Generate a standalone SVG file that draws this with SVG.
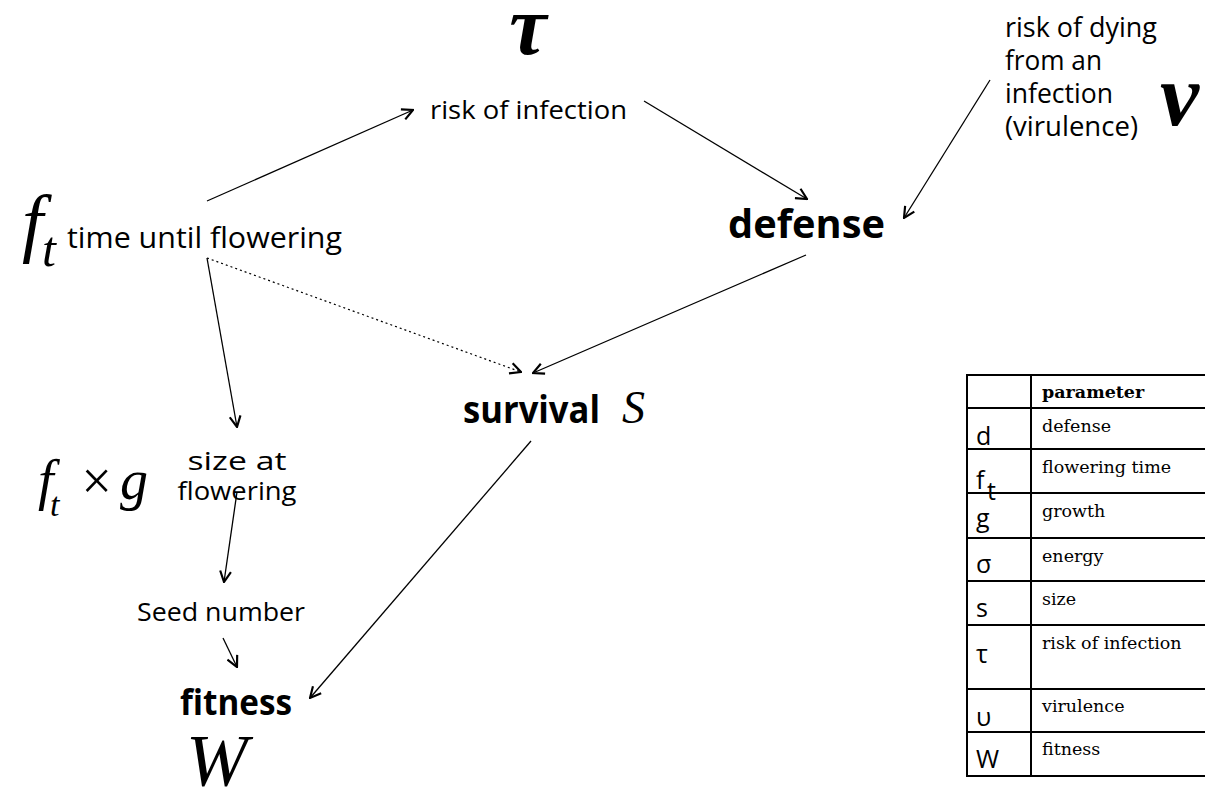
<svg xmlns="http://www.w3.org/2000/svg" width="1205" height="789" viewBox="0 0 1205 789">
<style>
.lbl{font-family:"Open Sans","Liberation Sans",sans-serif;fill:#000}
.b{font-weight:bold}
.math{font-family:"Liberation Serif","Times New Roman",serif;font-style:italic;fill:#000}
.tbl{font-family:"DejaVu Serif",serif;font-size:17.5px;fill:#000}
.sym{font-family:"Open Sans","Liberation Sans",sans-serif;font-size:25px;fill:#000}
.edge{stroke:#000;stroke-width:1.3;fill:none;marker-end:url(#ah)}
.dot{stroke-dasharray:2 3;stroke-width:1.2}
.grid{stroke:#000;stroke-width:2;fill:none}
</style>
<defs>
<marker id="ah" viewBox="0 0 12 12" refX="11" refY="6" markerWidth="13" markerHeight="13" orient="auto" markerUnits="userSpaceOnUse">
<path d="M1,1 L11,6 L1,11" fill="none" stroke="#000" stroke-width="2" stroke-dasharray="none"/>
</marker>
</defs>
<rect width="1205" height="789" fill="#fff"/>

<g id="connectors">
<line class="edge" x1="207" y1="201" x2="413" y2="110"/>
<line class="edge" x1="644" y1="101" x2="807" y2="199"/>
<line class="edge" x1="990" y1="80" x2="904" y2="218"/>
<line class="edge" x1="806" y1="255" x2="533" y2="373"/>
<line class="edge dot" x1="207" y1="258" x2="521" y2="372"/>
<line class="edge" x1="207" y1="258" x2="237" y2="427"/>
<line class="edge" x1="237" y1="492" x2="224" y2="582"/>
<line class="edge" x1="223" y1="638" x2="237" y2="667"/>
<line class="edge" x1="531" y1="441" x2="310" y2="698"/>
</g>

<g id="node-risk-infection">
<text class="math b" x="528" y="54" font-size="84" text-anchor="middle">τ</text>
<text class="lbl" x="430" y="119" font-size="26" textLength="197" lengthAdjust="spacingAndGlyphs">risk of infection</text>
</g>

<g id="node-flowering-time">
<text class="math" x="22" y="248" font-size="76">f</text>
<text class="math" x="42" y="266" font-size="50">t</text>
<text class="lbl" x="67" y="248" font-size="30" textLength="275" lengthAdjust="spacingAndGlyphs">time until flowering</text>
</g>

<g id="node-defense">
<text class="lbl b" x="728" y="238" font-size="40" textLength="157" lengthAdjust="spacingAndGlyphs">defense</text>
</g>

<g id="node-virulence">
<text class="lbl" x="1005" y="37" font-size="27" textLength="152" lengthAdjust="spacingAndGlyphs">risk of dying</text>
<text class="lbl" x="1005" y="70" font-size="27" textLength="97" lengthAdjust="spacingAndGlyphs">from an</text>
<text class="lbl" x="1005" y="103" font-size="27" textLength="108" lengthAdjust="spacingAndGlyphs">infection</text>
<text class="lbl" x="1005" y="136" font-size="27" textLength="133" lengthAdjust="spacingAndGlyphs">(virulence)</text>
<text class="math b" x="1160" y="125" font-size="88">ν</text>
</g>

<g id="node-survival">
<text class="lbl b" x="463" y="423" font-size="37" textLength="137" lengthAdjust="spacingAndGlyphs">survival</text>
<text class="math" x="622" y="423" font-size="46">S</text>
</g>

<g id="node-size">
<text class="math" x="38" y="499" font-size="56">f</text>
<text class="math" x="50" y="516" font-size="34">t</text>
<text class="math" x="78" y="499" font-size="54" font-style="normal">×</text>
<text class="math" x="120" y="499" font-size="56">g</text>
<text class="lbl" x="237" y="470" font-size="26" text-anchor="middle" textLength="99" lengthAdjust="spacingAndGlyphs">size at</text>
<text class="lbl" x="237" y="500" font-size="26" text-anchor="middle" textLength="119" lengthAdjust="spacingAndGlyphs">flowering</text>
</g>

<g id="node-seed">
<text class="lbl" x="137" y="621" font-size="26" textLength="168" lengthAdjust="spacingAndGlyphs">Seed number</text>
</g>

<g id="node-fitness">
<text class="lbl b" x="180" y="715" font-size="36" textLength="112" lengthAdjust="spacingAndGlyphs">fitness</text>
<text class="math" x="186" y="786" font-size="74">W</text>
</g>

<g id="parameter-table">
<line class="grid" x1="967" y1="375" x2="1205" y2="375"/>
<line class="grid" x1="967" y1="408" x2="1205" y2="408" stroke-width="3.5"/>
<line class="grid" x1="967" y1="449" x2="1205" y2="449"/>
<line class="grid" x1="967" y1="493" x2="1205" y2="493"/>
<line class="grid" x1="967" y1="538" x2="1205" y2="538"/>
<line class="grid" x1="967" y1="581" x2="1205" y2="581"/>
<line class="grid" x1="967" y1="625" x2="1205" y2="625"/>
<line class="grid" x1="967" y1="689" x2="1205" y2="689"/>
<line class="grid" x1="967" y1="732" x2="1205" y2="732"/>
<line class="grid" x1="967" y1="776" x2="1205" y2="776"/>
<line class="grid" x1="967" y1="374" x2="967" y2="777"/>
<line class="grid" x1="1031" y1="374" x2="1031" y2="777"/>
<text class="tbl b" x="1042" y="398">parameter</text>
<text class="sym" x="976" y="445">d</text><text class="tbl" x="1042" y="432">defense</text>
<text class="sym" x="976" y="489">f</text><text class="sym" x="987" y="500" font-size="15">t</text><text class="tbl" x="1042" y="473">flowering time</text>
<text class="sym" x="976" y="527">g</text><text class="tbl" x="1042" y="517">growth</text>
<text class="sym" x="976" y="573">σ</text><text class="tbl" x="1042" y="562">energy</text>
<text class="sym" x="976" y="617">s</text><text class="tbl" x="1042" y="605">size</text>
<text class="sym" x="976" y="663">τ</text><text class="tbl" x="1042" y="649">risk of infection</text>
<text class="sym" x="976" y="726">υ</text><text class="tbl" x="1042" y="712">virulence</text>
<text class="sym" x="976" y="768">W</text><text class="tbl" x="1042" y="755">fitness</text>
</g>
</svg>
